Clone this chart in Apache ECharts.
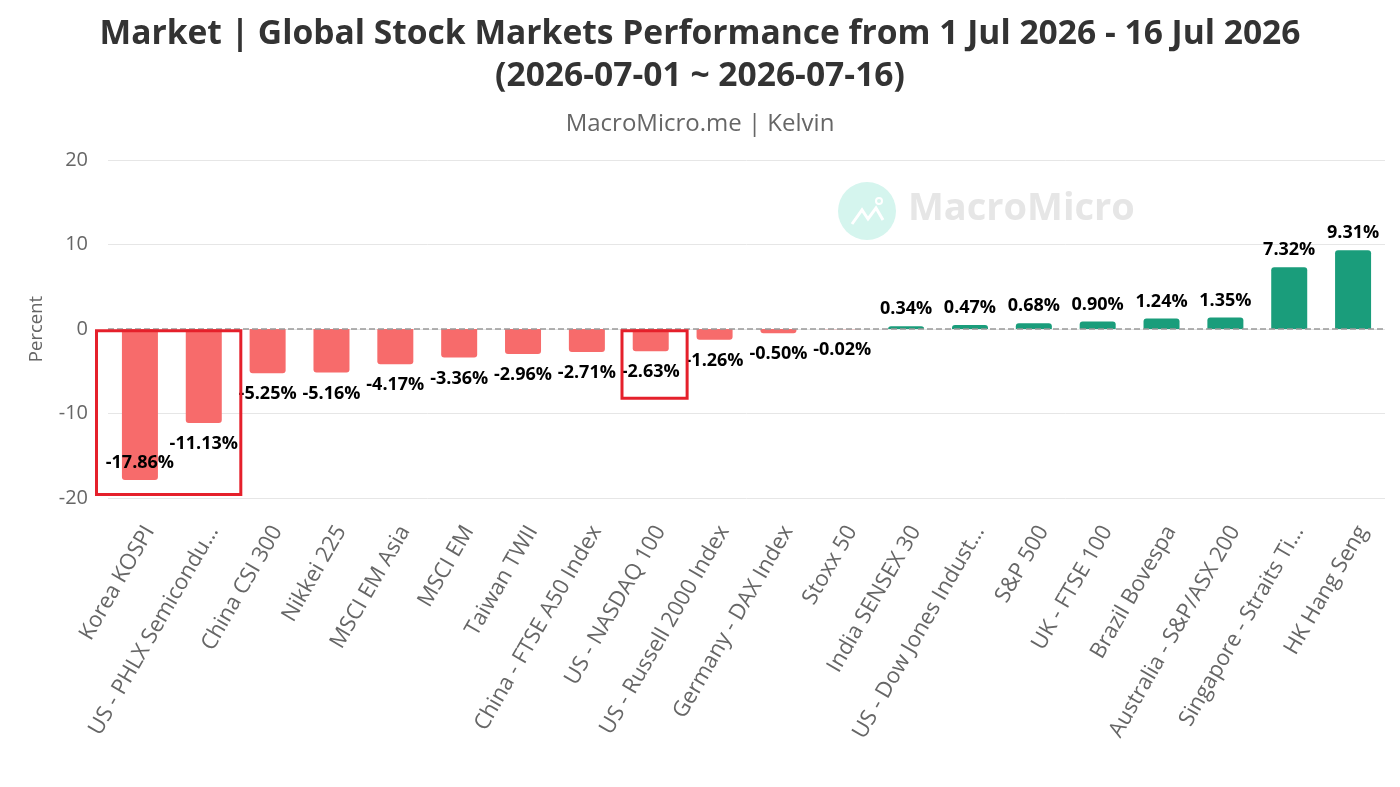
<!DOCTYPE html>
<html>
<head>
<meta charset="utf-8">
<script src="https://cdn.jsdelivr.net/npm/echarts@6/dist/echarts.min.js"></script>
<style>
  html, body { margin: 0; padding: 0; background: #fff; }
  #chart { width: 1400px; height: 787px; }
</style>
</head>
<body>
<div id="chart"></div>
<script>
const categories = [
  'Korea KOSPI', 'US - PHLX Semiconductor', 'China CSI 300', 'Nikkei 225', 'MSCI EM Asia',
  'MSCI EM', 'Taiwan TWII', 'China - FTSE A50 Index', 'US - NASDAQ 100', 'US - Russell 2000 Index',
  'Germany - DAX Index', 'Stoxx 50', 'India SENSEX 30', 'US - Dow Jones Industrial Average', 'S&P 500',
  'UK - FTSE 100', 'Brazil Bovespa', 'Australia - S&P/ASX 200', 'Singapore - Straits Times', 'HK Hang Seng'
];
const changes = [
  -17.86, -11.13, -5.25, -5.16, -4.17,
  -3.36, -2.96, -2.71, -2.63, -1.26,
  -0.50, -0.02, 0.34, 0.47, 0.68,
  0.90, 1.24, 1.35, 7.32, 9.31
];
const yTicks = [-20, -10, 0, 10, 20];
// highlighted boxes: first/last category, the lower value
const boxes = [
  { from: 'Korea KOSPI', to: 'US - PHLX Semiconductor', low: -19.6, padL: 0.68, padR: 0.58 },
  { from: 'US - NASDAQ 100', to: 'US - NASDAQ 100', low: -8.2, padL: 0.45, padR: 0.57 }
];

const RED = '#F76B6B';
const GREEN = '#1A9D7B';
const FONT = '"Open Sans", "Noto Sans", sans-serif';

const chart = echarts.init(document.getElementById('chart'));

const barData = changes.map(function (v) {
  let pos = v >= 0 ? 'top' : 'bottom';
  let dist = v >= 0 ? 8 : 12;
  if (v < -15) { pos = 'insideBottom'; dist = 8; }
  return {
    value: v,
    itemStyle: {
      color: v >= 0 ? GREEN : RED,
      borderRadius: v >= 0 ? [3, 3, 0, 0] : [0, 0, 3, 3]
    },
    label: { position: pos, distance: dist }
  };
});

chart.setOption({
  backgroundColor: '#fff',
  textStyle: { fontFamily: FONT },
  title: [{
    text: 'Market | Global Stock Markets Performance from 1 Jul 2026 - 16 Jul 2026\n(2026-07-01 ~ 2026-07-16)',
    left: 'center',
    top: 8,
    textStyle: { fontSize: 33.6, fontWeight: 'bold', color: '#333', lineHeight: 42, fontFamily: FONT }
  }, {
    text: 'MacroMicro.me | Kelvin',
    left: 'center',
    top: 107,
    textStyle: { fontSize: 24, fontWeight: 'normal', color: '#666', fontFamily: FONT }
  }],
  grid: { left: 108, right: 15, top: 160, bottom: 289 },
  xAxis: {
    type: 'category',
    data: categories,
    axisLine: { show: false },
    axisTick: { show: false },
    axisLabel: {
      interval: 0,
      rotate: 60,
      fontSize: 22,
      color: '#666',
      margin: 24,
      verticalAlign: 'top',
      width: 245,
      overflow: 'truncate',
      ellipsis: '…',
      fontFamily: FONT
    }
  },
  yAxis: {
    type: 'value',
    min: yTicks[0],
    max: yTicks[yTicks.length - 1],
    interval: 10,
    name: 'Percent',
    nameLocation: 'middle',
    nameRotate: 90,
    nameGap: 62,
    nameTextStyle: { fontSize: 18.5, color: '#666' },
    axisLabel: { fontSize: 20, color: '#666', margin: 20 },
    splitLine: { lineStyle: { color: '#e6e6e6', width: 1 } }
  },
  series: [{
    type: 'bar',
    data: barData,
    barWidth: 36,
    label: {
      show: true,
      fontSize: 18,
      fontWeight: 'bold',
      color: '#000',
      fontFamily: FONT,
      formatter: function (p) { return p.value.toFixed(2) + '%'; }
    },
    markLine: {
      silent: true,
      symbol: 'none',
      label: { show: false },
      lineStyle: { color: '#999', type: 'dashed', width: 1.5 },
      data: [{ yAxis: 0 }]
    }
  }]
});

// watermark + highlight boxes, positioned from the axes
const graphics = [{
  type: 'group',
  left: 838,
  top: 182,
  silent: true,
  children: [
    { type: 'circle', shape: { cx: 29, cy: 29, r: 29 }, style: { fill: '#d5f5ee' } },
    {
      type: 'polyline',
      shape: { points: [[14, 42], [24, 28], [30, 37], [38, 26], [45, 38]] },
      style: { stroke: '#fff', lineWidth: 3, fill: null }
    },
    { type: 'circle', shape: { cx: 41, cy: 19, r: 3 }, style: { stroke: '#fff', lineWidth: 2, fill: null } },
    {
      type: 'text',
      x: 70,
      y: 8,
      style: { text: 'MacroMicro', fill: '#e6e6e6', font: 'bold 38px ' + FONT }
    }
  ]
}];

const band = (1400 - 108 - 15) / categories.length;
boxes.forEach(function (b) {
  const x0 = chart.convertToPixel({ xAxisIndex: 0 }, b.from) - band * b.padL;
  const x1 = chart.convertToPixel({ xAxisIndex: 0 }, b.to) + band * b.padR;
  const y0 = chart.convertToPixel({ yAxisIndex: 0 }, -0.2);
  const y1 = chart.convertToPixel({ yAxisIndex: 0 }, b.low);
  graphics.push({
    type: 'rect',
    silent: true,
    z: 100,
    shape: { x: x0, y: y0, width: x1 - x0, height: y1 - y0 },
    style: { fill: null, stroke: '#E5202B', lineWidth: 3 }
  });
});

chart.setOption({ graphic: graphics });
</script>
</body>
</html>
